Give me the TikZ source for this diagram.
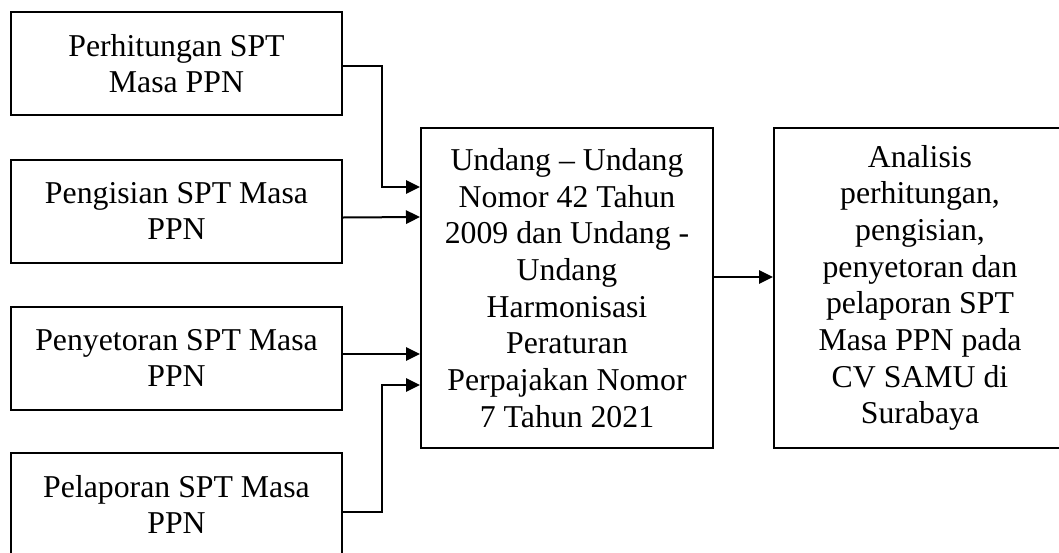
\documentclass[tikz,border=0pt]{standalone}
\usepackage{fontspec}
\setmainfont{Liberation Serif}
\usetikzlibrary{arrows.meta, positioning, calc}

\begin{document}
\begin{tikzpicture}[
    x=0.45pt, y=-0.45pt,
    font=\fontsize{14.3}{16.5}\selectfont,
    block/.style={rectangle, draw, line width=0.9pt, minimum width=331*0.45pt, minimum height=103*0.45pt, align=center, inner sep=0pt},
    bigblock/.style={rectangle, draw, line width=0.9pt, minimum width=292*0.45pt, minimum height=320*0.45pt, align=center, inner sep=0pt},
    arrow/.style={-{Triangle[length=6.3pt, width=6pt]}, line width=0.9pt}
]
    \clip (0,0) rectangle (1059,553);

    % Input boxes
    \node[block] (perhitungan) at (176.5,63.5) {Perhitungan SPT\\Masa PPN};
    \node[block] (pengisian) at (176.5,211) {Pengisian SPT Masa\\PPN};
    \node[block] (penyetoran) at (176.5,358) {Penyetoran SPT Masa\\PPN};
    \node[block] (pelaporan) at (176.5,504.5) {Pelaporan SPT Masa\\PPN};

    % Law box and result box
    \node[bigblock] (undang) at (567,288) {Undang -- Undang\\Nomor 42 Tahun\\2009 dan Undang -\\Undang\\Harmonisasi\\Peraturan\\Perpajakan Nomor\\7 Tahun 2021};
    \node[bigblock, right=59*0.45pt of undang] (analisis) {Analisis\\perhitungan,\\pengisian,\\penyetoran dan\\pelaporan SPT\\Masa PPN pada\\CV SAMU di\\Surabaya};

    % Edges into the law box
    \draw[arrow] ($(perhitungan.east)+(0,2.5)$) -- ++(39,0) |- ($(undang.west)+(0,-101)$);
    \draw[arrow] ($(pengisian.east)+(0,6.5)$) -- ($(undang.west)+(0,-71)$);
    \draw[arrow] ($(penyetoran.east)+(0,-4)$) -- ($(undang.west)+(0,66)$);
    \draw[arrow] ($(pelaporan.east)+(0,7.5)$) -- ++(39,0) |- ($(undang.west)+(0,97)$);

    % Edge to the result box
    \draw[arrow] ($(undang.east)+(0,-11)$) -- ($(analisis.west)+(0,-11)$);
\end{tikzpicture}
\end{document}
